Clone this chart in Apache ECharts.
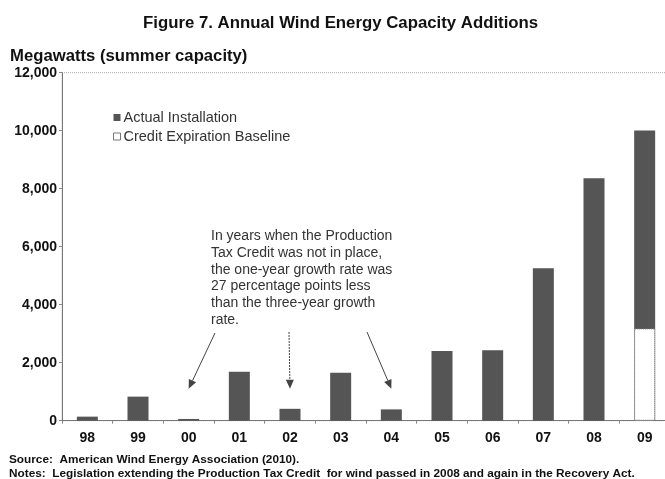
<!DOCTYPE html>
<html>
<head>
<meta charset="utf-8">
<script src="https://cdn.jsdelivr.net/npm/echarts@6/dist/echarts.min.js"></script>
<style>
html,body{margin:0;padding:0;background:#fff;}
#c{width:665px;height:479px;}
</style>
</head>
<body>
<div id="c"></div>
<script>
var categories = ['98','99','00','01','02','03','04','05','06','07','08','09'];
var actualInstallation = [140, 830, 60, 1690, 410, 1650, 390, 2400, 2430, 5260, 8360, 10010];
var creditExpirationBaseline = [null, null, null, null, null, null, null, null, null, null, null, 3180];
var yTicks = [0, 2000, 4000, 6000, 8000, 10000, 12000];
var annotationLines = ['In years when the Production', 'Tax Credit was not in place,', 'the one-year growth rate was', '27 percentage points less', 'than the three-year growth', 'rate.'];
var arrowTargets = ['00', '02', '04'];

var FONT = '"Liberation Sans", Arial, sans-serif';
var chart = echarts.init(document.getElementById('c'), null, {renderer: 'canvas'});

function fmt(v){ return v.toString().replace(/\B(?=(\d{3})+(?!\d))/g, ','); }

chart.setOption({
  animation: false,
  backgroundColor: '#ffffff',
  textStyle: {fontFamily: FONT},
  title: [
    {text: 'Figure 7. Annual Wind Energy Capacity Additions', left: 138, top: 10,
     textStyle: {fontFamily: FONT, fontSize: 16.8, fontWeight: 'bold', color: '#111'}},
    {text: 'Megawatts (summer capacity)', left: 5, top: 43,
     textStyle: {fontFamily: FONT, fontSize: 16.7, fontWeight: 'bold', color: '#111'}},
    {text: 'Source:  American Wind Energy Association (2010).', left: 4, top: 449,
     textStyle: {fontFamily: FONT, fontSize: 11.8, fontWeight: 'bold', color: '#111'}},
    {text: 'Notes:  Legislation extending the Production Tax Credit  for wind passed in 2008 and again in the Recovery Act.', left: 4, top: 463,
     textStyle: {fontFamily: FONT, fontSize: 11.8, fontWeight: 'bold', color: '#111'}}
  ],
  legend: {
    orient: 'vertical', left: 108, top: 105, itemWidth: 7, itemHeight: 7, itemGap: 4,
    icon: 'rect',
    textStyle: {fontFamily: FONT, fontSize: 14.5, color: '#333', padding: [0,0,0,-2]},
    data: [
      {name: 'Actual Installation', itemStyle: {color: '#555', borderColor: '#555'}},
      {name: 'Credit Expiration Baseline', itemStyle: {color: '#fff', borderColor: '#777', borderWidth: 1}}
    ]
  },
  grid: {left: 62, width: 608, top: 72.7, height: 348, outerBoundsMode: 'none', containLabel: false,
    show: true, borderColor: '#aaa', borderWidth: 1, borderType: 'dotted'},
  xAxis: {
    type: 'category', data: categories,
    axisLine: {lineStyle: {color: '#777', width: 1}},
    axisTick: {show: true, length: 3, lineStyle: {color: '#888'}},
    axisLabel: {fontFamily: FONT, fontSize: 14, fontWeight: 'bold', color: '#111', margin: 10}
  },
  yAxis: {
    type: 'value', min: 0, max: 12000, interval: 2000,
    axisLine: {show: true, lineStyle: {color: '#777', width: 1}},
    axisTick: {show: true, length: 3, lineStyle: {color: '#888'}},
    splitLine: {show: false},
    axisLabel: {fontFamily: FONT, fontSize: 14, fontWeight: 'bold', color: '#111', margin: 5,
      formatter: function(v){ return fmt(v); }}
  },
  series: [
    {name: 'Actual Installation', type: 'bar', data: actualInstallation, barWidth: 21,
     itemStyle: {color: '#555'}},
    {name: 'Credit Expiration Baseline', type: 'bar', data: creditExpirationBaseline, barWidth: 21, barGap: '-100%',
     itemStyle: {color: '#fff', borderColor: '#888', borderWidth: 1, borderType: 'dotted'}}
  ]
});

// annotation text and arrows, positioned via the chart's scales
var els = [];
els.push({type: 'text', left: 211, top: 228, style: {
  text: annotationLines.join('\n'), fontFamily: FONT, fontSize: 14, lineHeight: 16.7, fill: '#333'}});
var starts = [[215, 333], [289, 332], [367, 332]];
arrowTargets.forEach(function(cat, i){
  var tip = chart.convertToPixel({gridIndex: 0}, [cat, 1100]);
  var s = starts[i];
  var dx = tip[0] - s[0], dy = tip[1] - s[1];
  var len = Math.sqrt(dx*dx + dy*dy);
  var ux = dx/len, uy = dy/len;
  var hl = 9, hw = 4;
  var bx = tip[0] - ux*hl, by = tip[1] - uy*hl;
  els.push({type: 'line', shape: {x1: s[0], y1: s[1], x2: bx, y2: by},
    style: {stroke: '#444', lineWidth: 1, lineDash: i === 1 ? [2, 1] : null}});
  els.push({type: 'polygon', shape: {points: [[tip[0], tip[1]], [bx - uy*hw, by + ux*hw], [bx + uy*hw, by - ux*hw]]},
    style: {fill: '#444'}});
});
chart.setOption({graphic: els});
</script>
</body>
</html>
